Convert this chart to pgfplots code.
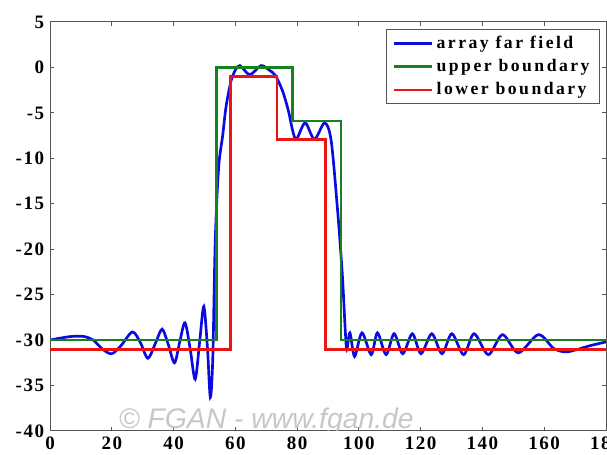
\documentclass[border=0pt]{standalone}
\usepackage{fontspec}
\setmainfont{Liberation Serif}
\newfontfamily\tickfont[LetterSpace=8]{Liberation Serif}
\newfontfamily\legfont[LetterSpace=14]{Liberation Serif}
\newfontfamily\wmfont{Liberation Sans}
\usepackage{pgfplots}
\pgfplotsset{compat=1.18}

\definecolor{mblue}{RGB}{10,10,225}
\definecolor{mgreen}{RGB}{20,130,30}
\definecolor{mred}{RGB}{235,20,20}
\definecolor{axgray}{RGB}{85,85,85}

\begin{document}
\begin{tikzpicture}
\begin{axis}[
    scale only axis,
    width=333.6pt, height=245.4pt,
    xmin=0, xmax=180, ymin=-40, ymax=5,
    xtick={0,20,...,180}, ytick={-40,-35,...,5},
    tick align=inside,
    major tick length=2.5pt,
    axis line style={axgray, line width=0.6pt},
    tick style={axgray, line width=0.6pt},
    /pgf/number format/assume math mode=true,
    ticklabel style={font=\tickfont\bfseries\fontsize{11.4}{12}\selectfont},
    legend style={at={(rel axis cs:0.989,0.983)}, anchor=north east,
        draw=axgray, fill=white,
        font=\legfont\bfseries\fontsize{10.6}{12}\selectfont,
        row sep=1.0pt, inner xsep=4pt, inner ysep=2pt},
    legend cell align=left,
    legend image code/.code={\draw[#1, line width=1.4pt] (0pt,0pt) -- (23pt,0pt);},
]
\addplot[mblue, line width=1.6pt, smooth, tension=0.5] coordinates {
(0,-30.0) (3,-29.8) (7,-29.6) (11,-29.6) (14,-30.0) (17,-31.0) (20,-31.5)
(23,-30.6) (26.7,-29.1) (29.3,-30.3) (31.7,-32.0) (34.2,-30.3) (36.3,-28.8)
(38.3,-30.5) (40.3,-32.5) (42,-30.2) (43.7,-28.1) (45.4,-31) (47.0,-34.3)
(48.5,-30) (49.8,-26.3) (51.0,-31) (51.9,-36.3) (52.7,-32) (53.5,-19)
(54.6,-11) (55.9,-7.5) (57.0,-4.3) (58.6,-1.5) (60,-0.3) (61.5,0.2)
(64.7,-0.8) (68.3,0.2) (71,-0.3) (73,-0.9) (75.3,-2.6) (77.2,-4.8)
(78.6,-7.0) (79.8,-7.9) (82.6,-6.1) (85.6,-7.9) (88.9,-6.1) (91.0,-8.0)
(93.0,-15.3) (94.6,-22.6) (95.6,-29) (96.1,-31.0) (97.1,-29.2) (98.6,-31.8)
(101.0,-29.2) (104.0,-31.6) (106.0,-29.2) (108.8,-31.6) (111.4,-29.3)
(114.2,-31.5) (117.3,-29.3) (120.1,-31.5) (123.6,-29.3) (126.9,-31.5)
(130.1,-29.3) (133.9,-31.6) (137.3,-29.3) (141.9,-31.6) (146.5,-29.4)
(151.6,-31.4) (158.1,-29.4) (163,-30.9) (166.7,-31.3) (170,-31.1)
(175,-30.6) (180,-30.2)
};
\addlegendentry{array far field}
\addplot[mgreen, line width=1.6pt] coordinates {
(0,-30) (53.8,-30) (53.8,0) (78.4,0) (78.4,-5.9) (94.2,-5.9) (94.2,-30) (180,-30)
};
\addlegendentry{upper boundary}
\addplot[mred, line width=1.6pt] coordinates {
(0,-31) (58.5,-31) (58.5,-1) (73.5,-1) (73.5,-7.9) (89.2,-7.9) (89.2,-31) (180,-31)
};
\addlegendentry{lower boundary}
\node[text=gray!55, opacity=0.8, font=\wmfont\itshape\fontsize{17}{17}\selectfont]
    at (axis cs:70,-38.9) {© FGAN - www.fgan.de};
\end{axis}
\pgfresetboundingbox
\path[use as bounding box] ([xshift=-30pt,yshift=-14.4pt]current axis.south west)
    rectangle ([xshift=0.6pt,yshift=13.2pt]current axis.north east);
\end{tikzpicture}
\end{document}
